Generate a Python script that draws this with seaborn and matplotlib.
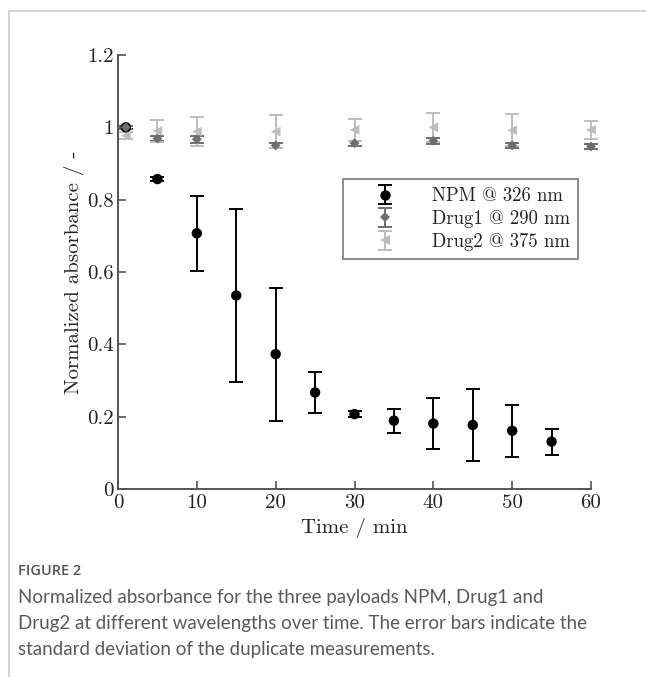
import numpy as np
import pandas as pd
import matplotlib
matplotlib.use("Agg")
import matplotlib.pyplot as plt
from matplotlib.lines import Line2D
import seaborn as sns

# ---- data ----
npm_t = [1, 5, 10, 15, 20, 25, 30, 35, 40, 45, 50, 55]
npm_y = [1.0, 0.857, 0.707, 0.535, 0.373, 0.267, 0.207, 0.189, 0.181, 0.177, 0.161, 0.131]
npm_err = [0.005, 0.005, 0.104, 0.239, 0.184, 0.057, 0.009, 0.033, 0.070, 0.100, 0.072, 0.036]

drug_t = [1, 5, 10, 20, 30, 40, 50, 60]
drug1_y = [1.0, 0.969, 0.967, 0.950, 0.956, 0.963, 0.950, 0.947]
drug1_err = [0.005, 0.006, 0.009, 0.008, 0.007, 0.008, 0.007, 0.008]
drug2_y = [0.977, 0.990, 0.988, 0.988, 0.993, 1.000, 0.992, 0.993]
drug2_err = [0.010, 0.030, 0.040, 0.045, 0.031, 0.040, 0.044, 0.025]

labels = ["NPM @ 326 nm", "Drug1 @ 290 nm", "Drug2 @ 375 nm"]
x_ticks = [0, 10, 20, 30, 40, 50, 60]
y_ticks = [0, 0.2, 0.4, 0.6, 0.8, 1.0, 1.2]
y_ticklabels = ["0", "0.2", "0.4", "0.6", "0.8", "1", "1.2"]

sns.set_theme(style="ticks")
plt.rcParams["font.family"] = ["cmr10", "DejaVu Serif"]
plt.rcParams["mathtext.fontset"] = "cm"
plt.rcParams["axes.formatter.use_mathtext"] = True
plt.rcParams["axes.unicode_minus"] = False

fig = plt.figure(figsize=(6.46, 6.77), dpi=100)
ax = fig.add_axes([118 / 646, 1 - 489 / 677, 473 / 646, 434 / 677])

series = [
    (npm_t, npm_y, npm_err, "#000000", "o", 7.5),
    (drug_t, drug1_y, drug1_err, "#6e6e6e", "D", 5.0),
    (drug_t, drug2_y, drug2_err, "#bdbdbd", "<", 7.0),
]

handles = []
for (t, y, e, col, mk, ms), lab in zip(series, labels):
    cont = ax.errorbar(t, y, yerr=e, fmt="none", ecolor=col, elinewidth=1.4,
                       capsize=5, capthick=1.4, zorder=2)
    for art in cont.get_children():
        art.set_clip_on(False)
    df = pd.DataFrame({"t": t, "y": y})
    sns.scatterplot(data=df, x="t", y="y", color=col, marker=mk, s=ms ** 2,
                    edgecolor="none", linewidth=0, ax=ax, zorder=3, legend=False,
                    clip_on=False)
    mline = Line2D([], [], linestyle="none", marker=mk, color=col,
                   markersize=ms, markeredgewidth=0)
    handles.append((cont, mline))

ax.set_xlim(0, 60)
ax.set_ylim(0, 1.2)
ax.set_xticks(x_ticks)
ax.set_xticklabels([str(v) for v in x_ticks])
ax.set_yticks(y_ticks)
ax.set_yticklabels(y_ticklabels)
ax.tick_params(direction="in", length=6, width=1.1, colors="#444444",
               labelsize=15, labelcolor="#222222")
ax.tick_params(axis="x", pad=4)
ax.tick_params(axis="y", pad=3)
sns.despine(ax=ax)
for sp in ["left", "bottom"]:
    ax.spines[sp].set_color("#555555")
    ax.spines[sp].set_linewidth(1.4)

ax.set_xlabel("Time / min", fontsize=15, color="#222222", labelpad=4)
ax.set_ylabel("Normalized absorbance / -", fontsize=15, color="#222222", labelpad=2)

leg = ax.legend(handles, labels, loc="upper right",
                bbox_to_anchor=((578 - 118) / 473, (489 - 179) / 434),
                borderaxespad=0, fontsize=13.5, frameon=True, fancybox=False,
                handlelength=3.6, handletextpad=0.7, borderpad=0.45,
                labelspacing=0.25)
leg.get_frame().set_edgecolor("#555555")
leg.get_frame().set_linewidth(1.2)
for txt in leg.get_texts():
    txt.set_color("#222222")

# page frame lines (top and left)
fig.add_artist(Line2D([9 / 646, 1.0], [1 - 11 / 677, 1 - 11 / 677],
                      transform=fig.transFigure, color="#cccccc", lw=1.2))
fig.add_artist(Line2D([9 / 646, 9 / 646], [0, 1 - 11 / 677],
                      transform=fig.transFigure, color="#cccccc", lw=1.2))

cap_font = ["Lato", "DejaVu Sans"]
fig.text(18 / 646, 1 - 571 / 677, "FIGURE 2", family=["Open Sans", "DejaVu Sans"],
         fontsize=10.5, color="#555555", va="center", ha="left",
         fontweight="semibold")
caption = ["Normalized absorbance for the three payloads NPM, Drug1 and",
           "Drug2 at different wavelengths over time. The error bars indicate the",
           "standard deviation of the duplicate measurements."]
for i, line in enumerate(caption):
    fig.text(18 / 646, 1 - (597 + 26 * i) / 677, line, family=cap_font,
             fontsize=13.5, color="#5a5a5a", va="center", ha="left")

fig.savefig("out.png", dpi=100)
